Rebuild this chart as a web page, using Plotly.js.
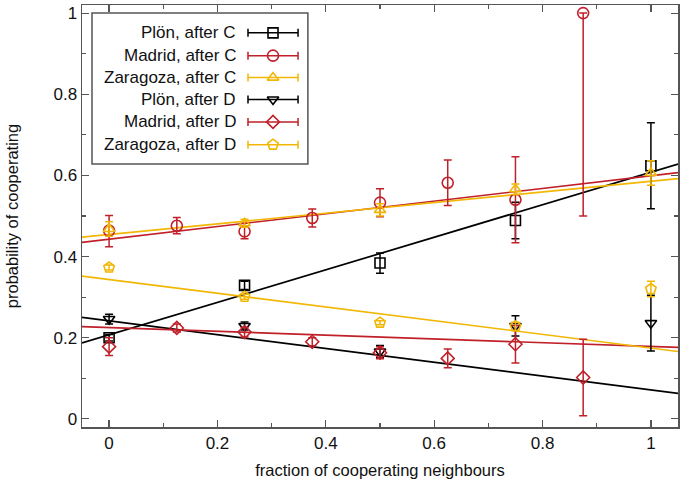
<!DOCTYPE html>
<html><head><meta charset="utf-8">
<script src="https://cdn.plot.ly/plotly-3.0.1.min.js"></script>
<style>html,body{margin:0;padding:0;background:#fff}#chart{width:683px;height:484px}</style>
</head><body><div id="chart"></div>
<script>
// ---- data ----
const xQuarters = [0, 0.25, 0.5, 0.75, 1];
const xEighths = [0, 0.125, 0.25, 0.375, 0.5, 0.625, 0.75, 0.875];

const plonC = [0.200, 0.329, 0.384, 0.489, 0.624];
const plonCErr = [0.008, 0.010, 0.025, 0.045, 0.106];

const madridC = [0.464, 0.476, 0.462, 0.495, 0.533, 0.582, 0.540, 1.0];
const madridCErrPlus = [0.037, 0.020, 0.020, 0.022, 0.034, 0.056, 0.106, 0];
const madridCErrMinus = [0.040, 0.020, 0.018, 0.022, 0.035, 0.056, 0.106, 0.5];

const zaragozaC = [0.468, 0.482, 0.515, 0.566, 0.606];
const zaragozaCErr = [0.018, 0.010, 0.015, 0.013, 0.030];

const plonD = [0.246, 0.229, 0.166, 0.229, 0.236];
const plonDErr = [0.012, 0.010, 0.015, 0.025, 0.069];

const madridD = [0.178, 0.224, 0.214, 0.190, 0.163, 0.149, 0.184, 0.102];
const madridDErr = [0.022, 0.010, 0.012, 0.010, 0.015, 0.023, 0.046, 0.094];

const zaragozaD = [0.373, 0.301, 0.237, 0.228, 0.320];
const zaragozaDErr = [0.006, 0.006, 0.005, 0.010, 0.019];

// fitted lines: end points at the axis limits
const fitX = [-0.05, 1.05];
const fitPlonC = [0.187, 0.628];
const fitMadridC = [0.435, 0.607];
const fitZaragozaC = [0.448, 0.592];
const fitPlonD = [0.250, 0.063];
const fitMadridD = [0.2275, 0.176];
const fitZaragozaD = [0.352, 0.166];

const seriesNames = ["Plön, after C", "Madrid, after C", "Zaragoza, after C",
                     "Plön, after D", "Madrid, after D", "Zaragoza, after D"];
const xTicks = [0, 0.2, 0.4, 0.6, 0.8, 1];
const yTicks = [0, 0.2, 0.4, 0.6, 0.8, 1];

// ---- styles ----
const BLACK = "#000000", RED = "#c0202a", YEL = "#f2b705";
const colors = [BLACK, RED, YEL, BLACK, RED, YEL];
const symbols = ["square-open", "circle-open", "triangle-up-open",
                 "triangle-down-open", "diamond-open", "pentagon-open"];
const sizes = [10, 11, 10, 10, 10, 11];

function pts(x, y, errP, errM, i) {
  const e = {type: "data", array: errP, color: colors[i], thickness: 1.5, width: 4, visible: true};
  if (errM) { e.symmetric = false; e.arrayminus = errM; } else { e.symmetric = true; }
  return {x: x, y: y, type: "scatter", mode: "markers", showlegend: false, cliponaxis: true,
    marker: {symbol: symbols[i], size: sizes[i], color: colors[i], line: {width: 1.6, color: colors[i]}},
    error_y: e, hoverinfo: "skip"};
}
function fit(y, i) {
  return {x: fitX, y: y, type: "scatter", mode: "lines", showlegend: false,
    line: {color: colors[i], width: 1.7}, hoverinfo: "skip"};
}

const traces = [
  fit(fitPlonC, 0), fit(fitMadridC, 1), fit(fitZaragozaC, 2),
  fit(fitPlonD, 3), fit(fitMadridD, 4), fit(fitZaragozaD, 5),
  pts(xQuarters, plonC, plonCErr, null, 0),
  pts(xEighths, madridC, madridCErrPlus, madridCErrMinus, 1),
  pts(xQuarters, zaragozaC, zaragozaCErr, null, 2),
  pts(xQuarters, plonD, plonDErr, null, 3),
  pts(xEighths, madridD, madridDErr, null, 4),
  pts(xQuarters, zaragozaD, zaragozaDErr, null, 5)
];

// ---- custom gnuplot-style legend (text left, sample right) ----
const legRows = [0.934, 0.880, 0.828, 0.776, 0.723, 0.669];
const legSampleX = 0.3205, legHalf = 0.042, legTextX = 0.262;
const annotations = [];
seriesNames.forEach((n, i) => {
  traces.push({x: [legSampleX], y: [legRows[i]], xaxis: "x2", yaxis: "y2", type: "scatter",
    mode: "markers", showlegend: false, hoverinfo: "skip",
    marker: {symbol: symbols[i], size: sizes[i], color: colors[i], line: {width: 1.6, color: colors[i]}},
    error_x: {type: "data", array: [legHalf], symmetric: true, color: colors[i], thickness: 1.5, width: 4}});
  annotations.push({xref: "paper", yref: "paper", x: legTextX, y: legRows[i], xanchor: "right",
    yanchor: "middle", showarrow: false, text: n, font: {size: 17, color: "#111"}});
});

const FRAME = "#555555";
const layout = {
  width: 683, height: 484,
  margin: {l: 82, r: 5, t: 5, b: 57},
  paper_bgcolor: "#ffffff", plot_bgcolor: "#ffffff",
  font: {family: "Liberation Sans, Arial, sans-serif", size: 17, color: "#111"},
  xaxis: {range: [-0.05, 1.05], tickvals: xTicks, ticktext: xTicks.map(String),
    ticks: "inside", ticklen: 7, tickwidth: 1.2, tickcolor: FRAME,
    showline: true, linecolor: FRAME, linewidth: 1.5, mirror: "allticks",
    showgrid: false, zeroline: false,
    minor: {dtick: 0.1, tick0: 0, ticks: "inside", ticklen: 4, tickwidth: 1.2, tickcolor: FRAME, showgrid: false},
    title: {text: "fraction of cooperating neighbours", font: {size: 16.5}, standoff: 12}},
  yaxis: {range: [-0.02, 1.02], tickvals: yTicks, ticktext: yTicks.map(String),
    ticks: "inside", ticklen: 7, tickwidth: 1.2, tickcolor: FRAME,
    showline: true, linecolor: FRAME, linewidth: 1.5, mirror: "allticks",
    showgrid: false, zeroline: false,
    minor: {dtick: 0.1, tick0: 0, ticks: "inside", ticklen: 4, tickwidth: 1.2, tickcolor: FRAME, showgrid: false},
    title: {text: "probability of cooperating", font: {size: 16.5}, standoff: 30}},
  xaxis2: {overlaying: "x", range: [0, 1], visible: false, fixedrange: true},
  yaxis2: {overlaying: "y", range: [0, 1], visible: false, fixedrange: true},
  shapes: [{type: "rect", xref: "paper", yref: "paper", x0: 0.0168, x1: 0.379, y0: 0.623, y1: 0.981,
    line: {color: FRAME, width: 1.5}, fillcolor: "#ffffff", layer: "below"}],
  annotations: annotations,
  showlegend: false
};

Plotly.newPlot("chart", traces, layout, {staticPlot: true, displayModeBar: false});
</script></body></html>
